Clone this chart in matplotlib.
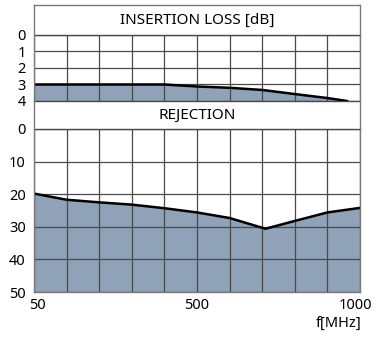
import matplotlib.pyplot as plt
import matplotlib.transforms as mtransforms

plt.rcParams['font.family'] = ['Noto Sans', 'DejaVu Sans']

# positions along the x grid (10 divisions between 50 and 1000 MHz)
x_il = [0, 1, 2, 3, 4, 5, 6, 7, 8, 9, 9.6]
il_db = [3.0, 3.0, 3.0, 3.0, 3.0, 3.12, 3.2, 3.33, 3.58, 3.82, 4.0]

x_rej = [0, 1, 2, 3, 4, 5, 6, 7.1, 8, 9, 10]
rej_db = [19.8, 21.7, 22.5, 23.2, 24.3, 25.6, 27.3, 30.6, 28.2, 25.6, 24.2]

x_ticks = [0, 5, 10]
x_labels = ["50", "500", "1000"]
il_ticks = [0, 1, 2, 3, 4]
rej_ticks = [0, 10, 20, 30, 40, 50]

fill_col = "#8fa2b7"
grid_col = "#4a4a4a"
frame_col = "#7a7a7a"

W, H = 376, 343
fig = plt.figure(figsize=(W / 100, H / 100), dpi=100)

def box(l, t, r, b):
    return [l / W, 1 - b / H, (r - l) / W, (b - t) / H]

# outer frame round both panels and the headers
frame = fig.add_axes(box(34, 5, 360, 292))
frame.set_xticks([])
frame.set_yticks([])
for s in frame.spines.values():
    s.set_color(frame_col)
    s.set_linewidth(1)
frame.set_zorder(5)
frame.patch.set_alpha(0)

fig.text((34 + 360) / 2 / W, 1 - 20 / H, "INSERTION LOSS [dB]", ha="center", va="center", fontsize=11)
fig.text((34 + 360) / 2 / W, 1 - 115 / H, "REJECTION", ha="center", va="center", fontsize=11)

ax1 = fig.add_axes(box(34, 35, 360, 101))
ax2 = fig.add_axes(box(34, 129, 360, 292))

for ax in (ax1, ax2):
    ax.set_xlim(0, 10)
    ax.set_xticks(range(11))
    ax.grid(True, color=grid_col, linewidth=0.9)
    ax.set_axisbelow(False)
    ax.tick_params(length=0, labelsize=10.5, pad=6)
    for s in ax.spines.values():
        s.set_color(grid_col)
        s.set_linewidth(1)
    ax.spines["left"].set_visible(False)
    ax.spines["right"].set_visible(False)

ax1.set_ylim(4, 0)
ax1.set_yticks(il_ticks)
ax1.set_xticklabels([])
ax1.fill_between(x_il, il_db, 4, color=fill_col, zorder=1)
ax1.plot(x_il, il_db, color="black", linewidth=1.8, zorder=3)

ax2.set_ylim(50, 0)
ax2.set_yticks(rej_ticks)
ax2.set_xticks(x_ticks)
ax2.set_xticklabels(x_labels)
ax2.set_xticks(range(11), minor=True)
ax2.grid(True, which="minor", color=grid_col, linewidth=0.9)
ax2.tick_params(which="minor", length=0)
ax2.tick_params(axis="x", pad=4)
ax2.fill_between(x_rej, rej_db, 50, color=fill_col, zorder=1)
ax2.plot(x_rej, rej_db, color="black", linewidth=1.8, zorder=3)
ax2.spines["bottom"].set_visible(False)

# nudge first and last x labels inwards like the original
labs = ax2.get_xticklabels()
labs[0].set_transform(labs[0].get_transform() + mtransforms.ScaledTranslation(3 / 100, 0, fig.dpi_scale_trans))
labs[-1].set_transform(labs[-1].get_transform() + mtransforms.ScaledTranslation(-5 / 100, 0, fig.dpi_scale_trans))

fig.text(362 / W, 1 - 323 / H, "f[MHz]", ha="right", va="center", fontsize=10.5)

fig.savefig("out.png", dpi=100)
